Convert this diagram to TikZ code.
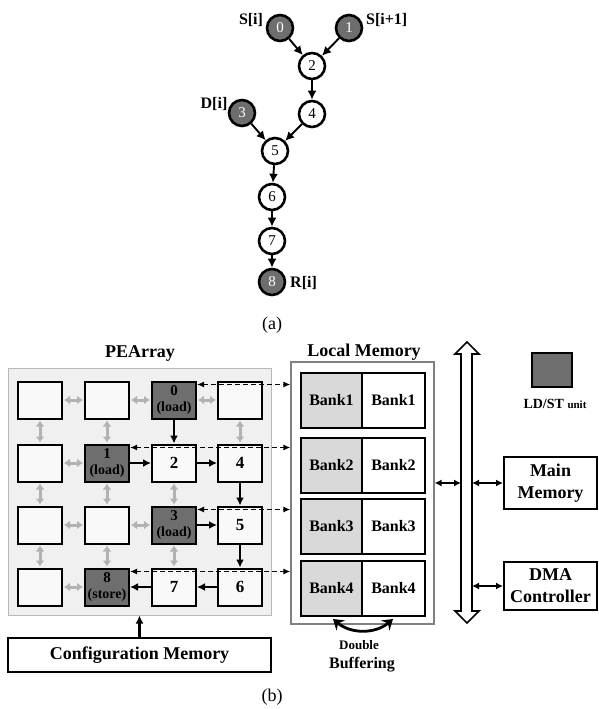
\documentclass[tikz,border=0pt]{standalone}
\usepackage{fontspec}
\setmainfont{Liberation Serif}
\usetikzlibrary{arrows.meta,positioning}

\definecolor{ldst}{gray}{0.43}
\definecolor{pebg}{gray}{0.94}
\definecolor{pecell}{gray}{0.975}
\definecolor{bankbg}{gray}{0.85}
\definecolor{linkgray}{gray}{0.7}

\tikzset{
  gnode/.style={circle, draw, line width=2.6pt, fill=white, minimum size=26pt, inner sep=0pt, font=\fontsize{15}{15}\selectfont},
  gload/.style={gnode, fill=ldst, text=white},
  gedge/.style={-{Latex[length=9pt,width=9pt]}, line width=1.9pt},
  glabel/.style={inner sep=0pt, font=\bfseries\fontsize{16}{16}\selectfont},
  pe/.style={draw, line width=2pt, fill=pecell, minimum width=44pt, minimum height=37pt, inner sep=0pt, font=\bfseries\fontsize{17}{17}\selectfont},
  pedark/.style={pe, fill=ldst, align=center, font=\bfseries\fontsize{15}{16}\selectfont},
  link/.style={{Latex[length=6pt,width=9pt]}-{Latex[length=6pt,width=9pt]}, linkgray, line width=3pt, shorten <=1pt, shorten >=1pt},
  flow/.style={-{Latex[length=8pt,width=8pt]}, line width=2.2pt},
  memlink/.style={dash pattern=on 5pt off 3pt, {Latex[length=7pt,width=6pt]}-{Latex[length=7pt,width=6pt]}, line width=1.8pt},
  bank/.style={draw, line width=2pt, minimum height=55pt, inner sep=0pt, font=\bfseries\fontsize{16}{16}\selectfont},
  membox/.style={draw, line width=2pt, fill=white, inner sep=0pt, align=center, font=\bfseries\fontsize{18}{22}\selectfont},
  buslink/.style={{Latex[length=7pt,width=7pt]}-{Latex[length=7pt,width=7pt]}, line width=1.8pt},
  title/.style={inner sep=0pt, font=\bfseries\fontsize{18}{18}\selectfont},
}

\begin{document}
\begin{tikzpicture}[x=1pt, y=-1pt]
  \useasboundingbox (0,0) rectangle (598,709);

  % ---------- (a) dataflow graph ----------
  \node[gload] (g0) at (280,28)  {0};
  \node[gload] (g1) at (349,28)  {1};
  \node[gnode] (g2) at (312,66)  {2};
  \node[gload] (g3) at (242,113) {3};
  \node[gnode] (g4) at (312,114) {4};
  \node[gnode] (g5) at (275,151) {5};
  \node[gnode] (g6) at (272,197) {6};
  \node[gnode] (g7) at (272,241) {7};
  \node[gload] (g8) at (272,282) {8};

  \draw[gedge] (g0) -- (g2);
  \draw[gedge] (g1) -- (g2);
  \draw[gedge] (g2) -- (g4);
  \draw[gedge] (g3) -- (g5);
  \draw[gedge] (g4) -- (g5);
  \draw[gedge] (g5) -- (g6);
  \draw[gedge] (g6) -- (g7);
  \draw[gedge] (g7) -- (g8);

  % labels of the loads and the store
  \node[glabel] (si)  at (251,20)  {S[i]};
  \node[glabel, anchor=west] (si1) at (366,20) {S[i+1]};
  \node[glabel] (di)  at (214,104) {D[i]};
  \node[glabel, anchor=west] (ri) at (290,283) {R[i]};

  \node[font=\fontsize{18}{18}\selectfont] (capa) at (272,325) {(a)};

  % ---------- (b) architecture ----------
  % PE array background
  \node[draw=gray!55, line width=1pt, fill=pebg, minimum width=263pt, minimum height=247pt, inner sep=0pt] (pearray) at (139.5,491.5) {};
  \node[title] (pelabel) at (140,353) {PEArray};

  % PE cells, row by row
  \node[pe]     (pe11) at (40,400)  {};
  \node[pe]     (pe12) at (107,400) {};
  \node[pedark] (pe13) at (174,400) {0\\{\fontsize{14}{14}\selectfont(load)}};
  \node[pe]     (pe14) at (240,400) {};

  \node[pe]     (pe21) at (40,463)  {};
  \node[pedark] (pe22) at (107,463) {1\\{\fontsize{14}{14}\selectfont(load)}};
  \node[pe]     (pe23) at (174,463) {2};
  \node[pe]     (pe24) at (240,463) {4};

  \node[pe]     (pe31) at (40,525)  {};
  \node[pe]     (pe32) at (107,525) {};
  \node[pedark] (pe33) at (174,525) {3\\{\fontsize{14}{14}\selectfont(load)}};
  \node[pe]     (pe34) at (240,525) {5};

  \node[pe]     (pe41) at (40,587)  {};
  \node[pedark] (pe42) at (107,587) {8\\{\fontsize{14}{14}\selectfont(store)}};
  \node[pe]     (pe43) at (174,587) {7};
  \node[pe]     (pe44) at (240,587) {6};

  % mesh links not used by the graph
  \foreach \a/\b in {11/12,12/13,13/14,21/22,31/32,32/33,41/42,
                     11/21,21/31,31/41,12/22,22/32,32/42,23/33,33/43,14/24}
    \draw[link] (pe\a) -- (pe\b);

  % mapped dataflow
  \draw[flow] (pe13) -- (pe23);
  \draw[flow] (pe22) -- (pe23);
  \draw[flow] (pe23) -- (pe24);
  \draw[flow] (pe24) -- (pe34);
  \draw[flow] (pe33) -- (pe34);
  \draw[flow] (pe34) -- (pe44);
  \draw[flow] (pe44) -- (pe43);
  \draw[flow] (pe43) -- (pe42);

  % configuration memory
  \node[membox, minimum width=263pt, minimum height=34pt] (cfg) at (139.5,655) {Configuration Memory};
  \draw[flow] (cfg.north) -- (cfg.north |- pearray.south);

  % local memory with double-buffered banks
  \node[draw=gray, line width=1.2pt, minimum width=143pt, minimum height=262pt, inner sep=0pt] (lm) at (362.5,493) {};
  \node[title] (lmlabel) at (364,352) {Local Memory};
  \foreach \i/\y in {1/400.5,2/465.5,3/526.5,4/588} {
    \node[bank, fill=bankbg, minimum width=61pt] (bank\i l) at (331.5,\y) {Bank\i};
    \node[bank, fill=white,  minimum width=63pt] (bank\i r) at (393.5,\y) {Bank\i};
  }

  % load/store paths to the banks
  \draw[memlink] ([yshift=-4pt]pe13.north east) -- ([yshift=-4pt]pe13.north east -| lm.west);
  \draw[memlink] ([yshift=-4pt]pe22.north east) -- ([yshift=-4pt]pe22.north east -| lm.west);
  \draw[memlink] ([yshift=-4pt]pe33.north east) -- ([yshift=-4pt]pe33.north east -| lm.west);
  \draw[memlink] ([yshift=-4pt]pe42.north east) -- ([yshift=-4pt]pe42.north east -| lm.west);

  % double buffering
  \coordinate (dbl) at (333,619);
  \coordinate (dbr) at (393,619);
  \draw[{Stealth[length=10pt,width=13pt]}-{Stealth[length=10pt,width=13pt]}, line width=2.8pt] (dbl) to[bend right=40] (dbr);
  \node[inner sep=0pt, font=\bfseries\fontsize{13}{13}\selectfont] (dbuf1) at (359,645) {Double};
  \node[inner sep=0pt, font=\bfseries\fontsize{16}{16}\selectfont] (dbuf2) at (362,665) {Buffering};

  % system bus
  \draw[line width=1.6pt, fill=white] (467,342) -- (479,354) -- (472,354) -- (472,611) -- (479,611)
    -- (467,623) -- (455,611) -- (461,611) -- (461,354) -- (455,354) -- cycle;
  \coordinate (busw) at (461,483);
  \coordinate (buse) at (472,483);

  % main memory and DMA
  \node[membox, minimum width=93pt, minimum height=52pt] (mainmem) at (550.5,483) {Main\\Memory};
  \node[membox, minimum width=93pt, minimum height=48pt] (dma) at (550.5,586) {DMA\\Controller};

  \draw[buslink] (lm.east |- busw) -- (busw);
  \draw[buslink] (buse) -- (mainmem.west);
  \draw[buslink] (buse |- dma.west) -- (dma.west);

  % legend
  \node[pedark, minimum width=40pt, minimum height=34pt] (legend) at (552,370) {};
  \node[inner sep=0pt, font=\bfseries] (legtext) at (555,404)
    {\fontsize{14}{14}\selectfont LD/ST {\fontsize{11}{11}\selectfont unit}};

  \node[font=\fontsize{18}{18}\selectfont] (capb) at (272,697) {(b)};
\end{tikzpicture}
\end{document}
